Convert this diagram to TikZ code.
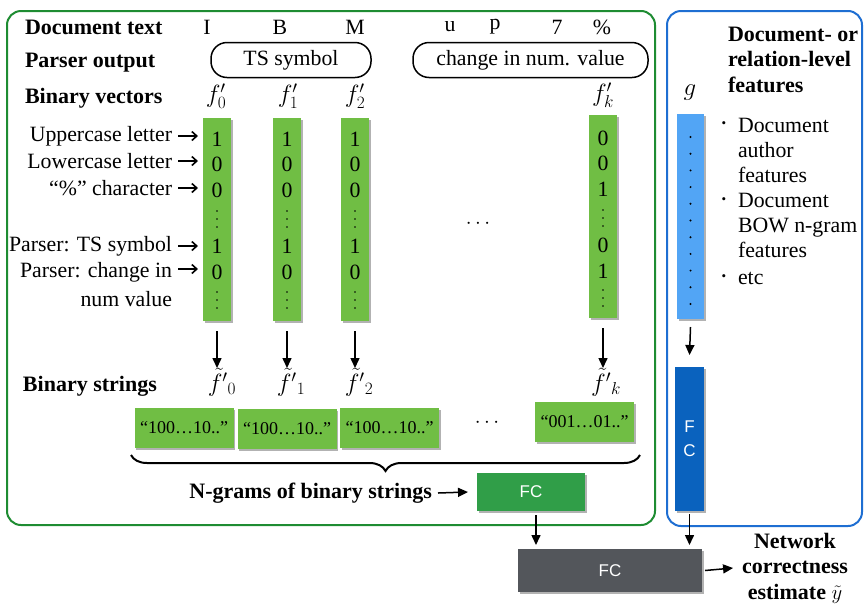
\documentclass[tikz,border=0pt]{standalone}
\usepackage{fontspec}
\setmainfont{Liberation Serif}
\setsansfont{Liberation Sans}
\usetikzlibrary{arrows.meta,shadows,decorations.pathreplacing,calc}

\definecolor{frameGreen}{RGB}{30,140,50}
\definecolor{frameBlue}{RGB}{30,110,210}
\definecolor{barGreen}{RGB}{112,190,68}
\definecolor{barBlue}{RGB}{82,165,245}
\definecolor{fcGreen}{RGB}{48,158,72}
\definecolor{fcBlue}{RGB}{10,98,190}
\definecolor{fcGray}{RGB}{83,86,91}

\begin{document}
\begin{tikzpicture}[x=1pt,y=-1pt,
  every node/.style={inner sep=0pt,outer sep=0pt},
  hdr/.style={font=\fontsize{22}{25.5}\selectfont\bfseries},
  txt/.style={font=\fontsize{21.8}{25.3}\selectfont},
  mth/.style={font=\fontsize{25}{28}\selectfont},
  strtxt/.style={font=\fontsize{18}{21}\selectfont},
  fctxt/.style={font=\sffamily\fontsize{17}{24}\selectfont,text=white},
  shade/.style={drop shadow={shadow xshift=1.5pt,shadow yshift=-1.5pt,opacity=0.3,fill=black}},
  gbar/.style={fill=barGreen,minimum width=28pt,minimum height=203pt,shade},
  strbox/.style={fill=barGreen,minimum width=99pt,minimum height=40pt,shade,strtxt},
  pill/.style={draw,line width=1.5pt,rounded corners=16pt,minimum height=35pt,txt},
  larr/.style={-{Straight Barb[length=5pt,width=9pt]},line width=1.6pt,shorten <=6pt,shorten >=5pt},
  darr/.style={-{Triangle[length=10pt,width=9pt]},line width=1.5pt},
  dotf/.style={fill=black},
]
\useasboundingbox (0,0) rectangle (864,603);

% frames
\draw[frameGreen,line width=2pt,rounded corners=14pt] (7,11) rectangle (655,525);
\draw[frameBlue,line width=2pt,rounded corners=14pt] (667,11) rectangle (862,526);

% row headers
\node[hdr,anchor=west] (hdoc) at (25,27) {Document text};
\node[hdr,anchor=west] (hpar) at (25,63) {Parser output};
\node[hdr,anchor=west] (hvec) at (25,98) {Binary vectors};
\node[hdr,anchor=west] (hstr) at (23,386) {Binary strings};

% document characters
\foreach \nm/\x/\c in {cI/207/I,cB/280/B,cM/355/M,cu/450/u,cp/495/p,c7/557/7,cp2/602/\%}
  \node[txt] (\nm) at (\x,27) {\c};

% parser output
\node[pill,minimum width=160pt] (ts) at (291,60) {TS symbol};
\node[pill,minimum width=235pt] (chg) at (530.5,60) {change in num. value};

% vector names
\node[mth] (f0) at (216,96) {$f'_0$};
\node[mth] (f1) at (288,96) {$f'_1$};
\node[mth] (f2) at (355,96) {$f'_2$};
\node[mth] (fk) at (603,95) {$f'_k$};
\node[mth] (g) at (690,93) {$g$};

% binary vectors
\node[gbar] (v0) at (217,219.5) {};
\node[gbar] (v1) at (287,219.5) {};
\node[gbar] (v2) at (355,219.5) {};
\node[gbar] (vk) at (603,216.5) {};
\node[fill=barBlue,minimum width=27pt,minimum height=205pt,shade] (gb) at (690.5,216.5) {};

\foreach \col/\x in {0/217,1/287,2/355}{
  \foreach \r/\y/\v in {1/139/1,2/164/0,3/190/0,4/246/1,5/272/0}
    \node[txt] (n\col-\r) at (\x,\y) {\v};
  \foreach \y in {211,219,227,292,300,308}
    \fill[dotf] (\x,\y) circle (0.8pt);
}
\foreach \r/\y/\v in {1/138/0,2/163/0,3/189/1,4/245/0,5/271/1}
  \node[txt] (nk-\r) at (603,\y) {\v};
\foreach \y in {210,218,226,290,298,306}
  \fill[dotf] (603,\y) circle (0.8pt);
\foreach \i in {0,...,10}
  \fill[dotf] (690.5,137+16.7*\i) circle (1.1pt);

% feature labels
\node[txt,anchor=east] (l1) at (172,136) {Uppercase letter};
\node[txt,anchor=east] (l2) at (172,161) {Lowercase letter};
\node[txt,anchor=east] (l3) at (172,188) {“\%” character};
\node[txt,anchor=east] (l4) at (172,246) {Parser: TS symbol};
\node[txt,anchor=east] (l5) at (172,272) {Parser: change in};
\node[txt,anchor=east] (l6) at (172,299) {num value};
\foreach \l in {l1,l2,l3,l4}
  \draw[larr] (\l.east) -- (\l.east -| v0.west);
\draw[larr] ([yshift=3pt]l5.east) -- ([yshift=3pt]l5.east -| v0.west);

\node[txt] (hd1) at (478,224) {$\cdots$};

% binary strings
\node[mth] (t0) at (222,382) {${\tilde{f}}'{}_0$};
\node[mth] (t1) at (291,382) {${\tilde{f}}'{}_1$};
\node[mth] (t2) at (359,382) {${\tilde{f}}'{}_2$};
\node[mth] (tk) at (606,382) {${\tilde{f}}'{}_k$};
\foreach \a/\b in {v0/t0,v1/t1,v2/t2,vk/tk}
  \draw[darr] ([yshift=-10pt]\a.south) -- ([yshift=-10pt]\a.south |- 0,358);

\node[strbox] (s0) at (184,428) {“100…10..”};
\node[strbox] (s1) at (287,429) {“100…10..”};
\node[strbox] (s2) at (389.5,428) {“100…10..”};
\node[strbox] (sk) at (584.5,422) {“001…01..”};
\node[txt] (hd2) at (487,423) {$\cdots$};

% brace over all strings
\coordinate (bl) at (131,455);
\coordinate (br) at (640,455);
\draw[line width=2pt,decorate,decoration={brace,mirror,amplitude=16pt}] (bl) -- (br);

% n-gram branch
\node[hdr,anchor=east] (ng) at (432,493) {N-grams of binary strings};
\node[fill=fcGreen,minimum width=108pt,minimum height=38pt,shade,fctxt] (gfc) at (531,492) {FC};
\draw[darr] ([xshift=6pt]ng.east) -- ([xshift=-9pt]gfc.west);

% document-level branch
\node[hdr,anchor=north west,align=left] (dtitle) at (728,27) {Document- or\\relation-level\\features};
\node[font=\fontsize{13}{13}\selectfont] (b1) at (724,125) {•};
\node[font=\fontsize{13}{13}\selectfont] (b2) at (724,201) {•};
\node[font=\fontsize{13}{13}\selectfont] (b3) at (724,278) {•};
\node[txt,anchor=north west,align=left] (i1) at (738,118) {Document\\author\\features};
\node[txt,anchor=north west,align=left] (i2) at (738,193) {Document\\BOW n-gram\\features};
\node[txt,anchor=north west,align=left] (i3) at (738,272) {etc};

\node[fill=fcBlue,minimum width=29pt,minimum height=144pt,shade,fctxt,align=center] (bfc) at (689.5,439) {F\\C};
\draw[darr] ([yshift=-8pt]gb.south) -- ([yshift=12pt]bfc.north);

% output
\node[fill=fcGray,minimum width=184pt,minimum height=43pt,shade,fctxt] (out) at (610,570.5) {FC};
\draw[darr] ([xshift=5pt,yshift=-4pt]gfc.south) -- ([xshift=5pt]gfc.south |- out.north) [shorten >=4pt];
\draw[darr] ([yshift=-3pt]bfc.south) -- (bfc.south |- out.north) [shorten >=4pt];
\node[hdr,align=center] (net) at (795,568) {Network\\correctness\\estimate $\tilde{y}$};
\draw[darr] ([xshift=3pt]out.east) -- ([xshift=-9pt]net.west);
\end{tikzpicture}
\end{document}
